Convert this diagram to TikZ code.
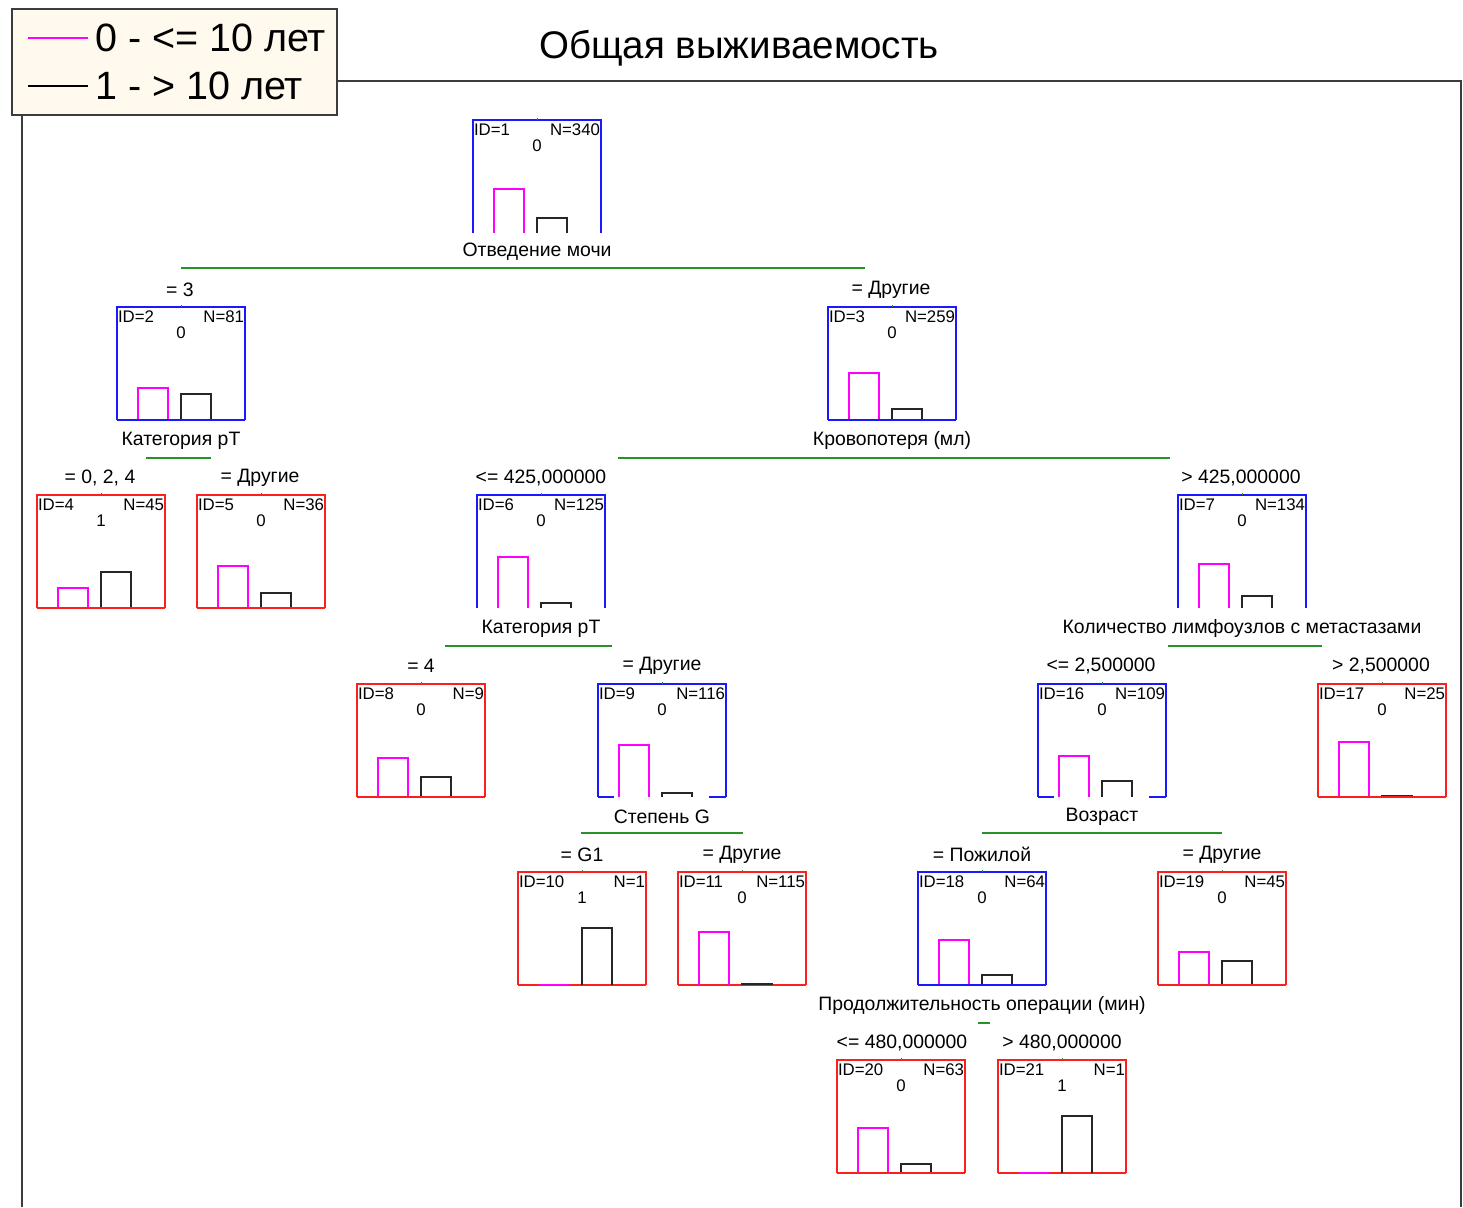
\documentclass[tikz,border=0pt]{standalone}
\usepackage{fontspec}
\setmainfont{Liberation Sans}
\usetikzlibrary{calc}
\definecolor{cblue}{RGB}{25,25,255}
\definecolor{cred}{RGB}{255,30,30}
\definecolor{cmag}{RGB}{255,0,255}
\definecolor{cgreen}{RGB}{40,145,40}
\definecolor{ccream}{RGB}{255,249,238}
\definecolor{cframe}{RGB}{60,60,60}
\tikzset{
  tbox/.style={minimum width=128pt,minimum height=113pt,inner sep=0pt,draw=none},
  small/.style={inner sep=0pt,font=\fontsize{16.8}{19}\selectfont},
  lab/.style={inner sep=0pt,yshift=-1.5pt,font=\fontsize{19.4}{22}\selectfont},
  big/.style={inner sep=0pt,font=\fontsize{39.5}{44}\selectfont},
  split/.style={cgreen,line width=2pt},
  edge/.style={line width=2pt},
  barm/.style={cmag,line width=2pt},
  barb/.style={black!85,line width=2pt},
}
% name, cx, top, colour, ID, N, class
\newcommand{\tbox}[7]{%
  \node[tbox] (#1) at (#2,#3+56.5) {};
  \draw[#4,edge] (#1.south west) -- (#1.north west) -- (#1.north east) -- (#1.south east);
  \node[small,anchor=west] (#1id) at ($(#1.north west)+(1,10)$) {ID=#5};
  \node[small,anchor=east] (#1n) at ($(#1.north east)+(-1,10)$) {N=#6};
  \node[small] (#1c) at ($(#1.north)+(0,26)$) {#7};
  \draw[cgreen,line width=1pt] (#1.north) -- ++(0,-2);
}
% cx, bottom, magenta top, black top
\newcommand{\tbars}[4]{%
  \draw[barm] (#1-43,#2) -- (#1-43,#3) -- (#1-13,#3) -- (#1-13,#2);
  \draw[barb] (#1,#2) -- (#1,#4) -- (#1+30,#4) -- (#1+30,#2);
}
\newcommand{\fullbot}[2]{\draw[#2,edge] (#1.south west) -- (#1.south east);}
\newcommand{\partbot}[2]{%
  \draw[#2,edge] (#1.south west) -- ++(16,0);
  \draw[#2,edge] (#1.south east) -- ++(-17,0);}
\begin{document}
\begin{tikzpicture}[x=1pt,y=-1pt]
\useasboundingbox (0,0) rectangle (1463,1207);
% outer frame
\draw[cframe,line width=2pt] (22,1207) -- (22,110) (338,81) -- (1461,81) -- (1461,1207);
% legend
\node[draw=cframe,fill=ccream,line width=2pt,minimum width=325pt,minimum height=106pt,inner sep=0pt] (legend) at (174.5,62) {};
\coordinate (lm1) at (28,38); \coordinate (lm2) at (88,38);
\coordinate (lb1) at (28,86); \coordinate (lb2) at (88,86);
\draw[cmag,line width=2pt] (lm1) -- (lm2);
\draw[black,line width=2pt] (lb1) -- (lb2);
\node[big,anchor=west] (leg0) at (95,38) {0 - <= 10 лет};
\node[big,anchor=west] (leg1) at (95,86) {1 - > 10 лет};
\node[big,font=\fontsize{38.5}{44}\selectfont] (title) at (739,48) {Общая выживаемость};

% nodes
\tbox{n1}{537}{120}{cblue}{1}{340}{0}
\tbars{537}{233}{189}{218}
\node[lab,fill=white,inner sep=1pt] (l1) at (537,250) {Отведение мочи};

\tbox{n2}{181}{307}{cblue}{2}{81}{0}
\tbars{181}{420}{388}{394}\fullbot{n2}{cblue}
\node[lab] (l2) at (181,439) {Категория pT};

\tbox{n3}{892}{307}{cblue}{3}{259}{0}
\tbars{892}{420}{373}{409}\fullbot{n3}{cblue}
\node[lab] (l3) at (892,439) {Кровопотеря (мл)};

\tbox{n4}{101}{495}{cred}{4}{45}{1}
\tbars{101}{608}{588}{572}\fullbot{n4}{cred}
\tbox{n5}{261}{495}{cred}{5}{36}{0}
\tbars{261}{608}{566}{593}\fullbot{n5}{cred}

\tbox{n6}{541}{495}{cblue}{6}{125}{0}
\tbars{541}{608}{557}{603}
\node[lab] (l6) at (541,627) {Категория pT};

\tbox{n7}{1242}{495}{cblue}{7}{134}{0}
\tbars{1242}{608}{564}{596}
\node[lab] (l7) at (1242,627) {Количество лимфоузлов с метастазами};

\tbox{n8}{421}{684}{cred}{8}{9}{0}
\tbars{421}{797}{758}{777}\fullbot{n8}{cred}

\tbox{n9}{662}{684}{cblue}{9}{116}{0}
\tbars{662}{797}{745}{793}\partbot{n9}{cblue}
\node[lab] (l9) at (662,815) {Степень G};

\tbox{n16}{1102}{684}{cblue}{16}{109}{0}
\tbars{1102}{797}{756}{781}\partbot{n16}{cblue}
\node[lab] (l16) at (1102,815) {Возраст};

\tbox{n17}{1382}{684}{cred}{17}{25}{0}
\tbars{1382}{797}{742}{795.5}\fullbot{n17}{cred}

\tbox{n10}{582}{872}{cred}{10}{1}{1}
\fullbot{n10}{cred}\tbars{582}{985}{985}{928}

\tbox{n11}{742}{872}{cred}{11}{115}{0}
\fullbot{n11}{cred}\tbars{742}{985}{932}{983.5}

\tbox{n18}{982}{872}{cblue}{18}{64}{0}
\tbars{982}{985}{940}{975}\fullbot{n18}{cblue}
\node[lab] (l18) at (982,1004) {Продолжительность операции (мин)};

\tbox{n19}{1222}{872}{cred}{19}{45}{0}
\tbars{1222}{985}{952}{961}\fullbot{n19}{cred}

\tbox{n20}{901}{1060}{cred}{20}{63}{0}
\tbars{901}{1173}{1128}{1164}\fullbot{n20}{cred}

\tbox{n21}{1062}{1060}{cred}{21}{1}{1}
\fullbot{n21}{cred}\tbars{1062}{1173}{1173}{1116}

% split lines
\coordinate (s1a) at (181,268); \coordinate (s1b) at (865,268);
\coordinate (s2a) at (146,458); \coordinate (s2b) at (211,458);
\coordinate (s3a) at (618,458); \coordinate (s3b) at (1170,458);
\coordinate (s6a) at (445,646); \coordinate (s6b) at (612,646);
\coordinate (s7a) at (1168,646); \coordinate (s7b) at (1322,646);
\coordinate (s9a) at (581,833); \coordinate (s9b) at (743,833);
\coordinate (s16a) at (982,833); \coordinate (s16b) at (1222,833);
\coordinate (s18a) at (978,1023); \coordinate (s18b) at (990,1023);
\foreach \s in {1,2,3,6,7,9,16,18} \draw[split] (s\s a) -- (s\s b);

% split conditions
\node[lab] (c2) at (180,288) {= 3};
\node[lab] (c3) at (891,288) {= Другие};
\node[lab] (c4) at (100,476) {= 0, 2, 4};
\node[lab] (c5) at (260,476) {= Другие};
\node[lab] (c6) at (541,476) {<= 425,000000};
\node[lab] (c7) at (1241,476) {> 425,000000};
\node[lab] (c8) at (421,664) {= 4};
\node[lab] (c9) at (662,664) {= Другие};
\node[lab] (c16) at (1101,664) {<= 2,500000};
\node[lab] (c17) at (1381,664) {> 2,500000};
\node[lab] (c10) at (582,853) {= G1};
\node[lab] (c11) at (742,853) {= Другие};
\node[lab] (c18) at (982,853) {= Пожилой};
\node[lab] (c19) at (1222,853) {= Другие};
\node[lab] (c20) at (902,1041) {<= 480,000000};
\node[lab] (c21) at (1062,1041) {> 480,000000};
\end{tikzpicture}
\end{document}
